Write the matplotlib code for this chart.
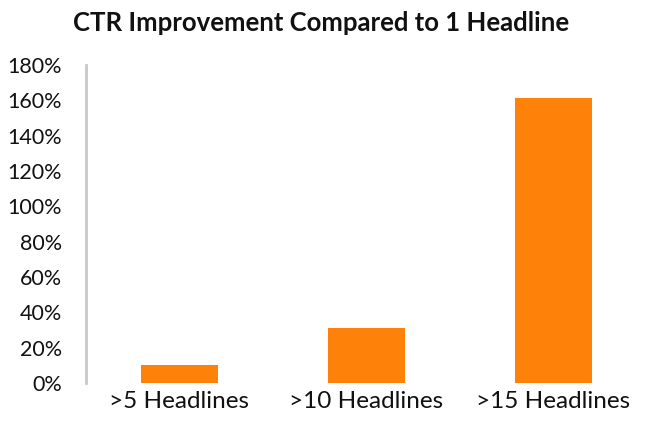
import matplotlib
matplotlib.use("Agg")
import matplotlib.pyplot as plt
from matplotlib.ticker import FuncFormatter

categories = [">5 Headlines", ">10 Headlines", ">15 Headlines"]
values = [0.10, 0.31, 1.61]
title = "CTR Improvement Compared to 1 Headline"

plt.rcParams['font.family'] = ['Lato', 'DejaVu Sans']

fig = plt.figure(figsize=(6.5, 4.23), dpi=100)
ax = fig.add_axes([0.132, 0.0946, 0.863, 0.752])
x = list(range(len(categories)))
ax.bar(x, values, width=0.41, color='#FE820A', zorder=2)
ax.set_xlim(-0.5, len(categories) - 0.5)
ax.set_ylim(0, 1.8)
ax.set_yticks([i * 0.2 for i in range(10)])
ax.yaxis.set_major_formatter(FuncFormatter(lambda v, p: f"{round(v*100)}%"))
ax.set_xticks(x)
ax.set_xticklabels(categories)
for s in ['top', 'right', 'bottom']:
    ax.spines[s].set_visible(False)
ax.spines['left'].set_color('#C8C8C8')
ax.spines['left'].set_linewidth(2)
ax.tick_params(axis='y', length=0, pad=17, labelsize=15.5, labelcolor='#111111')
ax.tick_params(axis='x', length=0, pad=6, labelsize=17.5, labelcolor='#111111')
fig.text(0.494, 0.945, title, ha='center', va='center', fontsize=18.5, fontweight='bold', color='#111111')
fig.savefig("out.png", dpi=100)
